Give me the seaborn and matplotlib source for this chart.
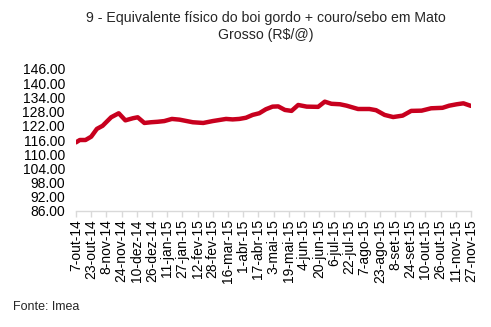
import matplotlib
matplotlib.use("Agg")
import matplotlib.pyplot as plt
import seaborn as sns
import pandas as pd
import numpy as np

dates = ["2014-10-07", "2014-10-11", "2014-10-17", "2014-10-23", "2014-10-29", "2014-11-04",
         "2014-11-13", "2014-11-21", "2014-11-28", "2014-12-06", "2014-12-11", "2014-12-18",
         "2014-12-25", "2015-01-01", "2015-01-08", "2015-01-16", "2015-01-24", "2015-02-07",
         "2015-02-18", "2015-02-28", "2015-03-14", "2015-03-21", "2015-03-28", "2015-04-04",
         "2015-04-11", "2015-04-18", "2015-04-25", "2015-05-02", "2015-05-08", "2015-05-15",
         "2015-05-22", "2015-05-29", "2015-06-07", "2015-06-19", "2015-06-26", "2015-07-03",
         "2015-07-12", "2015-07-19", "2015-07-31", "2015-08-12", "2015-08-19", "2015-08-28",
         "2015-09-06", "2015-09-16", "2015-09-25", "2015-10-06", "2015-10-16", "2015-10-28",
         "2015-11-04", "2015-11-12", "2015-11-19", "2015-11-27"]
values = [115.0, 116.0, 116.0, 117.4, 120.7, 122.0,
          125.6, 127.3, 124.3, 125.2, 125.6, 123.2,
          123.5, 123.7, 124.0, 124.9, 124.6, 123.5,
          123.2, 124.0, 124.9, 124.7, 124.9, 125.4,
          126.6, 127.3, 129.0, 130.1, 130.2, 128.7,
          128.3, 130.8, 130.1, 130.0, 132.2, 131.3,
          131.1, 130.5, 129.1, 129.1, 128.6, 126.6,
          125.7, 126.3, 128.3, 128.4, 129.4, 129.6,
          130.5, 131.1, 131.5, 130.4]

tick_labels = ["7-out-14", "23-out-14", "8-nov-14", "24-nov-14", "10-dez-14", "26-dez-14",
               "11-jan-15", "27-jan-15", "12-fev-15", "28-fev-15", "16-mar-15", "1-abr-15",
               "17-abr-15", "3-mai-15", "19-mai-15", "4-jun-15", "20-jun-15", "6-jul-15",
               "22-jul-15", "7-ago-15", "23-ago-15", "8-set-15", "24-set-15", "10-out-15",
               "26-out-15", "11-nov-15", "27-nov-15"]
y_ticks = [86, 92, 98, 104, 110, 116, 122, 128, 134, 140, 146]

title = "9 - Equivalente físico do boi gordo + couro/sebo em Mato\nGrosso (R$/@)"
source = "Fonte: Imea"

sns.set_theme(style="white")
plt.rcParams["font.family"] = ["Liberation Sans", "DejaVu Sans"]

df = pd.DataFrame({"data": pd.to_datetime(dates), "valor": values})
start = df["data"].iloc[0]
df["dia"] = (df["data"] - start).dt.days

fig = plt.figure(figsize=(4.91, 3.27), dpi=100)
ax = fig.add_axes([76 / 491, 1 - 211 / 327, (471 - 76) / 491, (211 - 69) / 327])

sns.lineplot(data=df, x="dia", y="valor", ax=ax, color="#C8001E", linewidth=3.2)

tick_pos = np.arange(len(tick_labels)) * 16
ax.set_xticks(tick_pos)
ax.set_xticklabels(tick_labels, rotation=90, fontsize=10, color="black")
ax.set_xlim(0, tick_pos[-1])
ax.set_ylim(86, 146)
ax.set_yticks(y_ticks)
ax.set_yticklabels([f"{v:.2f}" for v in y_ticks], fontsize=10, color="black")
ax.set_xlabel("")
ax.set_ylabel("")

for s in ["top", "right", "left"]:
    ax.spines[s].set_visible(False)
ax.spines["bottom"].set_color("#d9d9d9")
ax.spines["bottom"].set_linewidth(1.0)
ax.tick_params(axis="x", which="both", bottom=True, length=4, width=1.0, color="#d9d9d9", pad=2)
ax.tick_params(axis="y", left=False, pad=2)
ax.grid(False)

fig.text(266 / 491, 1 - 11 / 327, title, ha="center", va="top", fontsize=10.2, linespacing=1.3)
fig.text(13 / 491, 1 - 307 / 327, source, ha="left", va="center", fontsize=9)

fig.savefig("out.png", dpi=100)
